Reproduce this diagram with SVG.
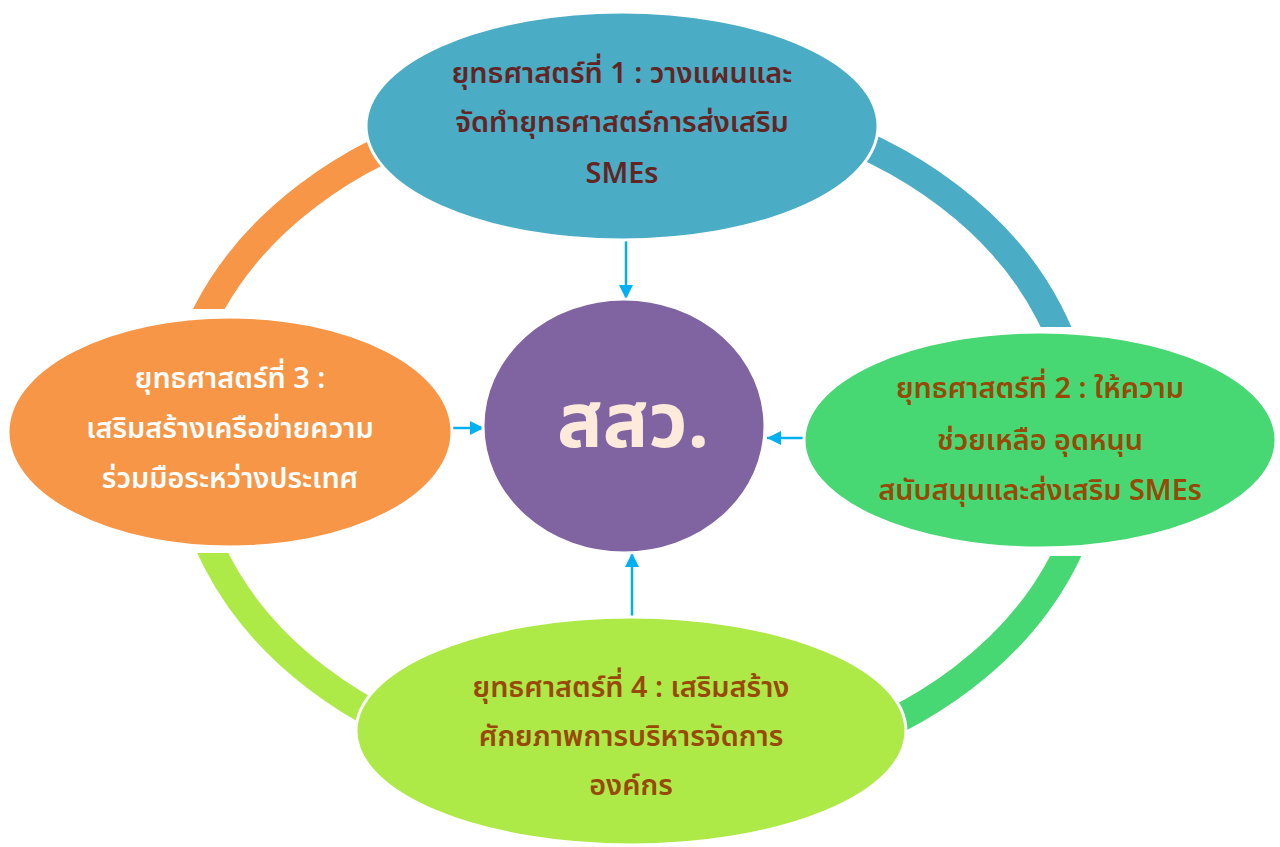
<svg xmlns="http://www.w3.org/2000/svg" width="1280" height="847" viewBox="0 0 1280 847">
<defs>
<style>
.node{stroke:#ffffff;stroke-width:3}
.t{font-family:"Leelawadee UI","Noto Sans Thai","Tahoma","Noto Sans",sans-serif;font-size:28.8px;font-weight:600;text-anchor:middle}
.ring{fill:none;stroke-width:28}
.arr{stroke:#00B0F0;stroke-width:2.5;fill:none}
</style>
<marker id="ah" viewBox="0 0 10 10" refX="10" refY="5" markerWidth="5.6" markerHeight="5.6" orient="auto" markerUnits="strokeWidth">
<path d="M0,0 L10,5 L0,10 z" fill="#00B0F0"/>
</marker>
<clipPath id="cTL"><rect x="0" y="0" width="632" height="309"/></clipPath>
<clipPath id="cTR"><rect x="632" y="0" width="648" height="327"/></clipPath>
<clipPath id="cBR"><rect x="632" y="556" width="648" height="300"/></clipPath>
<clipPath id="cBL"><rect x="0" y="553" width="632" height="300"/></clipPath>
</defs>
<rect width="1280" height="847" fill="#ffffff"/>
<g id="ring">
<ellipse class="ring" cx="624" cy="437" rx="448" ry="341" stroke="#F79646" clip-path="url(#cTL)"/>
<ellipse class="ring" cx="632" cy="437" rx="448" ry="341" stroke="#4BACC6" clip-path="url(#cTR)"/>
<ellipse class="ring" cx="646" cy="437" rx="448" ry="341" stroke="#48D873" clip-path="url(#cBR)"/>
<ellipse class="ring" cx="634" cy="437" rx="448" ry="341" stroke="#AEEA47" clip-path="url(#cBL)"/>
</g>
<g id="connectors">
<line class="arr" x1="626" y1="240" x2="626" y2="299" marker-end="url(#ah)"/>
<line class="arr" x1="805" y1="438" x2="767" y2="438" marker-end="url(#ah)"/>
<line class="arr" x1="452" y1="428" x2="484" y2="428" marker-end="url(#ah)"/>
<line class="arr" x1="632" y1="618" x2="632" y2="553" marker-end="url(#ah)"/>
</g>
<g id="node1">
<ellipse class="node" cx="622" cy="126" rx="256" ry="114" fill="#4BACC6"/>
<text class="t" fill="#632523"><tspan x="622" y="83">ยุทธศาสตร์ที่ 1 : วางแผนและ</tspan><tspan x="622" y="132">จัดทำยุทธศาสตร์การส่งเสริม</tspan><tspan x="622" y="183">SMEs</tspan></text>
</g>
<g id="node2">
<ellipse class="node" cx="1040" cy="440" rx="236" ry="108" fill="#48D873"/>
<text class="t" fill="#984807"><tspan x="1040" y="398">ยุทธศาสตร์ที่ 2 : ให้ความ</tspan><tspan x="1040" y="450">ช่วยเหลือ อุดหนุน</tspan><tspan x="1040" y="500">สนับสนุนและส่งเสริม SMEs</tspan></text>
</g>
<g id="node3">
<ellipse class="node" cx="230" cy="432" rx="222" ry="115" fill="#F79646"/>
<text class="t" fill="#ffffff"><tspan x="230" y="388">ยุทธศาสตร์ที่ 3 :</tspan><tspan x="230" y="438">เสริมสร้างเครือข่ายความ</tspan><tspan x="230" y="488">ร่วมมือระหว่างประเทศ</tspan></text>
</g>
<g id="node4">
<ellipse class="node" cx="631" cy="731" rx="275" ry="114" fill="#AEEA47"/>
<text class="t" fill="#984807"><tspan x="631" y="697">ยุทธศาสตร์ที่ 4 : เสริมสร้าง</tspan><tspan x="631" y="746">ศักยภาพการบริหารจัดการ</tspan><tspan x="631" y="795">องค์กร</tspan></text>
</g>
<g id="center">
<ellipse class="node" cx="624" cy="426" rx="141" ry="127" fill="#8064A2"/>
<text x="633" y="447" font-family="Leelawadee UI, Noto Sans Thai, Tahoma, Noto Sans, sans-serif" font-size="76" font-weight="bold" fill="#FDEADA" text-anchor="middle">สสว.</text>
</g>
</svg>
